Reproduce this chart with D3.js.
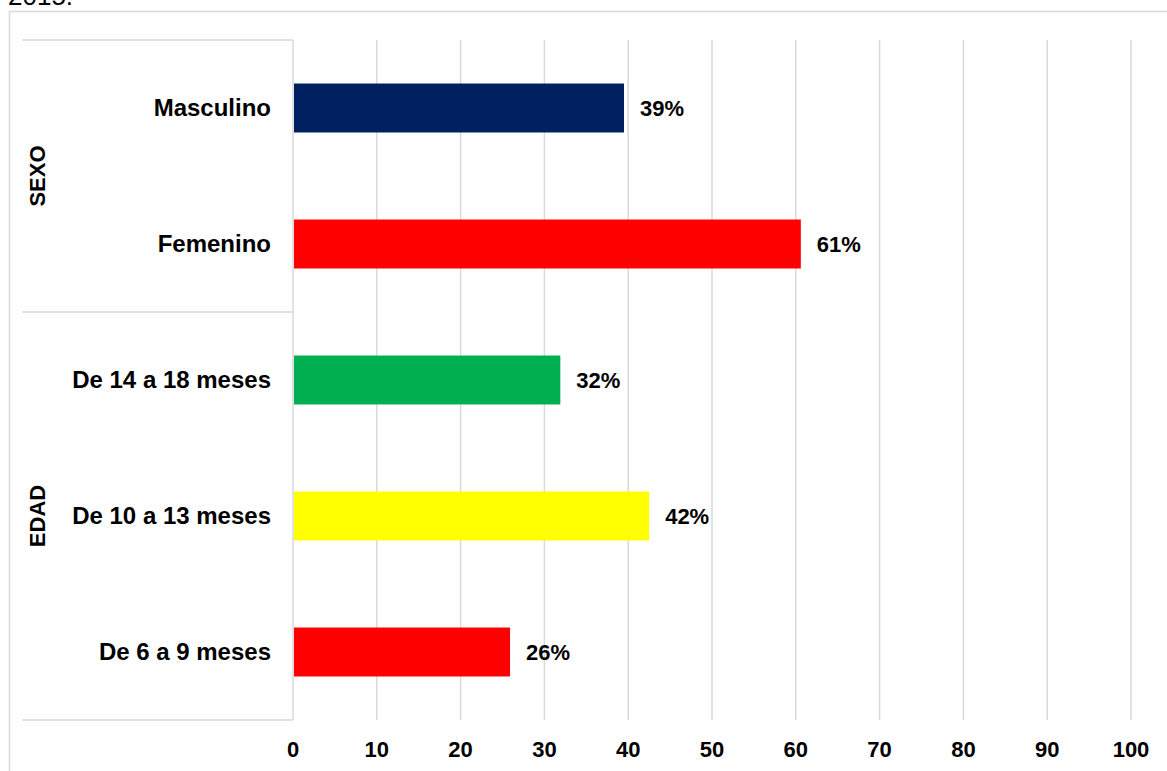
<!DOCTYPE html>
<html>
<head>
<meta charset="utf-8">
<script src="https://d3js.org/d3.v7.min.js"></script>
<style>
body { margin: 0; background: #fff; }
svg text { font-family: "Liberation Sans", Arial, sans-serif; }
</style>
</head>
<body>
<svg></svg>
<script>
// data, top to bottom as drawn
const categories = ["Masculino", "Femenino", "De 14 a 18 meses", "De 10 a 13 meses", "De 6 a 9 meses"];
const values = [39.5, 60.6, 31.9, 42.5, 25.9];
const valueLabels = ["39%", "61%", "32%", "42%", "26%"];
const barColors = ["#002060", "#ff0000", "#00b050", "#ffff00", "#ff0000"];
const groups = ["SEXO", "EDAD"];
const groupSizes = [2, 3];
const ticks = [0, 10, 20, 30, 40, 50, 60, 70, 80, 90, 100];

const width = 1167, height = 771;
const plot = { left: 293, right: 1131, top: 40, bottom: 720 };

const svg = d3.select("svg").attr("width", width).attr("height", height);

// caption line above the chart, cut off by the page top
svg.append("text").attr("x", 8).attr("y", 5)
  .style("font-size", "26px").attr("fill", "#000").text("2015.");

// outer chart border (runs off the page at right and bottom)
svg.append("rect").attr("x", 9.5).attr("y", 11.5)
  .attr("width", 1200).attr("height", 800)
  .attr("fill", "none").attr("stroke", "#d9d9d9").attr("stroke-width", 1.5);

const x = d3.scaleLinear().domain([0, 100]).range([plot.left, plot.right]);
const y = d3.scaleBand().domain(categories).range([plot.top, plot.bottom]).paddingInner(0.64).paddingOuter(0.32);

// gridlines
svg.append("g").selectAll("line").data(ticks).join("line")
  .attr("x1", d => x(d)).attr("x2", d => x(d))
  .attr("y1", plot.top).attr("y2", plot.bottom)
  .attr("stroke", "#d9d9d9").attr("stroke-width", 1.5);

// group divider lines on the category side
let acc = 0;
const bounds = [0];
groupSizes.forEach(n => { acc += n; bounds.push(acc); });
const step = (plot.bottom - plot.top) / categories.length;
svg.append("g").selectAll("line").data(bounds).join("line")
  .attr("x1", 22).attr("x2", plot.left)
  .attr("y1", d => plot.top + d * step).attr("y2", d => plot.top + d * step)
  .attr("stroke", "#d9d9d9").attr("stroke-width", 1.5);

// bars
svg.append("g").selectAll("rect").data(categories).join("rect")
  .attr("x", x(0) + 1)
  .attr("y", d => y(d))
  .attr("width", (d, i) => x(values[i]) - x(0) - 1)
  .attr("height", y.bandwidth())
  .attr("fill", (d, i) => barColors[i]);

// value labels
svg.append("g").selectAll("text").data(categories).join("text")
  .attr("x", (d, i) => x(values[i]) + 16)
  .attr("y", d => y(d) + y.bandwidth() / 2)
  .attr("dy", "0.35em")
  .style("font-size", "22px").style("font-weight", "bold")
  .text((d, i) => valueLabels[i]);

// category labels
svg.append("g").selectAll("text").data(categories).join("text")
  .attr("x", 271)
  .attr("y", d => y(d) + y.bandwidth() / 2)
  .attr("dy", "0.35em")
  .attr("text-anchor", "end")
  .style("font-size", "24px").style("font-weight", "bold")
  .text(d => d);

// group labels, rotated
svg.append("g").selectAll("text").data(groups).join("text")
  .attr("transform", (d, i) => {
    const cy = plot.top + (bounds[i] + bounds[i + 1]) / 2 * step;
    return "translate(37," + cy + ") rotate(-90)";
  })
  .attr("dy", "0.35em")
  .attr("text-anchor", "middle")
  .style("font-size", "22px").style("font-weight", "bold")
  .text(d => d);

// x axis tick labels
svg.append("g").selectAll("text").data(ticks).join("text")
  .attr("x", d => x(d))
  .attr("y", 749)
  .attr("dy", "0.35em")
  .attr("text-anchor", "middle")
  .style("font-size", "22px").style("font-weight", "bold")
  .text(d => d);
</script>
</body>
</html>
